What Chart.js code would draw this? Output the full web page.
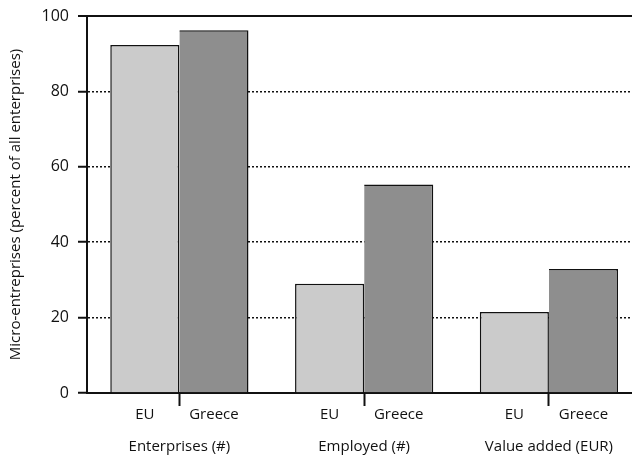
<!DOCTYPE html>
<html>
<head>
<meta charset="utf-8">
<script src="https://cdn.jsdelivr.net/npm/chart.js@4.4.0/dist/chart.umd.min.js"></script>
<style>
    html, body { margin: 0; padding: 0; background: #fff; overflow: hidden; }
    #wrap { width: 645px; height: 459px; }
</style>
</head>
<body>
<div id="wrap"><canvas id="microChart"></canvas></div>
<script>
// Data
const groups = ['Enterprises (#)', 'Employed (#)', 'Value added (EUR)'];
const seriesNames = ['EU', 'Greece'];
const euValues = [92.3, 29.0, 21.5];
const greeceValues = [96.2, 55.3, 32.9];
const yTicks = [0, 20, 40, 60, 80, 100];

const ink = '#111';
const font = { family: 'Open Sans', size: 15 };

// EU / Greece labels under each bar, placed from the bar elements
const seriesLabels = {
    id: 'seriesLabels',
    afterDraw(chart) {
        const ctx = chart.ctx;
        const y = chart.chartArea.bottom + 22;
        ctx.save();
        ctx.fillStyle = ink;
        ctx.font = font.size + 'px "' + font.family + '"';
        ctx.textAlign = 'center';
        ctx.textBaseline = 'middle';
        chart.data.datasets.forEach((ds, di) => {
            chart.getDatasetMeta(di).data.forEach(bar => ctx.fillText(ds.label, bar.x, y));
        });
        ctx.restore();
    }
};

new Chart(document.getElementById('microChart'), {
    type: 'bar',
    data: {
        labels: groups,
        datasets: [
            { label: seriesNames[0], data: euValues, backgroundColor: '#cbcbcb', borderColor: ink,
              borderWidth: { top: 1.5, left: 1.5, right: 1.5, bottom: 0 } },
            { label: seriesNames[1], data: greeceValues, backgroundColor: '#8e8e8e', borderColor: ink,
              borderWidth: { top: 1.5, left: 0, right: 1.5, bottom: 0 } }
        ]
    },
    options: {
        responsive: true,
        maintainAspectRatio: false,
        animation: false,
        categoryPercentage: 0.748,
        barPercentage: 1,
        layout: { padding: { top: 16, right: 0, bottom: 0, left: 7 } },
        plugins: { legend: { display: false }, tooltip: { enabled: false } },
        scales: {
            x: {
                type: 'category',
                afterFit: (scale) => { scale.height = 66; },
                grid: {
                    offset: false,
                    drawOnChartArea: false,
                    tickLength: 13,
                    tickWidth: 2,
                    tickColor: ink
                },
                border: { display: true, color: ink, width: 2 },
                ticks: { color: ink, font: font, padding: 32, maxRotation: 0 }
            },
            y: {
                min: 0,
                max: 100,
                afterFit: (scale) => { scale.width = 80; scale.paddingTop = 0; scale.paddingBottom = 0; },
                afterBuildTicks: (scale) => { scale.ticks = yTicks.map(v => ({ value: v })); },
                grid: {
                    color: (ctx) => ctx.tick && ctx.tick.value === 0 ? 'rgba(0,0,0,0)' : ink,
                    lineWidth: (ctx) => ctx.tick && ctx.tick.value === 100 ? 2 : 1.5,
                    tickLength: 9,
                    tickColor: ink,
                    tickWidth: 2
                },
                border: {
                    display: true, color: ink, width: 2,
                    dash: (ctx) => ctx.tick && ctx.tick.value < 100 ? [2, 2] : []
                },
                ticks: { color: ink, font: { family: 'Open Sans', size: 16 }, padding: 9 },
                title: { display: true, text: 'Micro-entreprises (percent of all enterprises)', color: ink,
                    font: { family: 'Open Sans', size: 15 }, padding: { top: 0, bottom: 0 } }
            }
        }
    },
    plugins: [seriesLabels]
});
</script>
</body>
</html>
